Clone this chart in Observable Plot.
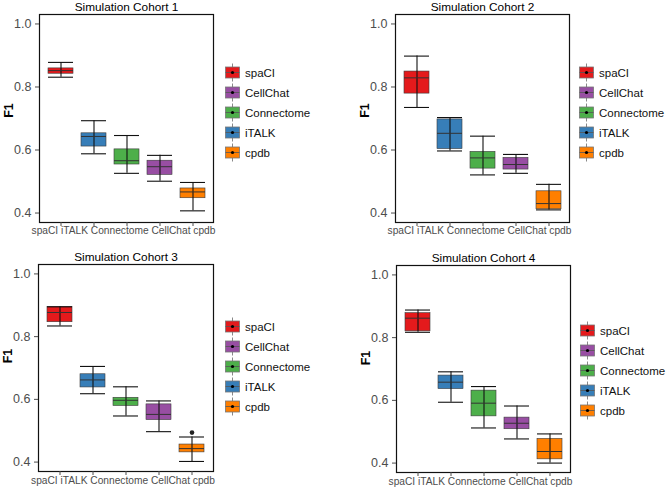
<!DOCTYPE html>
<html>
<head>
<meta charset="utf-8">
<script src="https://cdn.jsdelivr.net/npm/d3@7"></script>
<script src="https://cdn.jsdelivr.net/npm/@observablehq/plot@0.6"></script>
<style>
  html, body { margin: 0; padding: 0; background: #fff; }
  #root { position: relative; width: 666px; height: 489px; overflow: hidden; font-family: "Liberation Sans", Arial, Helvetica, sans-serif; }
  .panel { position: absolute; }
  .legend { position: absolute; }
  .legend text { font-family: "Liberation Sans", Arial, Helvetica, sans-serif; }
</style>
</head>
<body>
<div id="root"></div>
<script>
// ---------- data ----------
const methods = ["spaCI", "iTALK", "Connectome", "CellChat", "cpdb"];
const legendOrder = ["spaCI", "CellChat", "Connectome", "iTALK", "cpdb"];
const methodColors = ["#E41A1C", "#377EB8", "#4DAF4A", "#984EA3", "#FF7F00"]; // in `methods` order
const cohortTitles = ["Simulation Cohort 1", "Simulation Cohort 2", "Simulation Cohort 3", "Simulation Cohort 4"];
const yTicks = [0.4, 0.6, 0.8, 1.0];

// per cohort (rows) x per method (columns, `methods` order)
const whiskerLow = [
  [0.831, 0.588, 0.526, 0.501, 0.407],
  [0.735, 0.597, 0.521, 0.526, 0.410],
  [0.834, 0.618, 0.547, 0.497, 0.402],
  [0.817, 0.594, 0.512, 0.477, 0.400]
];
const q1 = [
  [0.842, 0.611, 0.554, 0.521, 0.447],
  [0.779, 0.603, 0.541, 0.538, 0.412],
  [0.846, 0.638, 0.579, 0.534, 0.431],
  [0.820, 0.636, 0.549, 0.508, 0.412]
];
const median = [
  [0.852, 0.643, 0.566, 0.547, 0.467],
  [0.829, 0.653, 0.575, 0.554, 0.430],
  [0.877, 0.662, 0.597, 0.552, 0.443],
  [0.862, 0.658, 0.591, 0.527, 0.437]
];
const q3 = [
  [0.859, 0.653, 0.602, 0.566, 0.478],
  [0.849, 0.697, 0.594, 0.575, 0.469],
  [0.895, 0.680, 0.605, 0.584, 0.456],
  [0.878, 0.679, 0.631, 0.545, 0.477]
];
const whiskerHigh = [
  [0.878, 0.693, 0.646, 0.583, 0.497],
  [0.898, 0.703, 0.644, 0.586, 0.491],
  [0.895, 0.705, 0.640, 0.595, 0.480],
  [0.888, 0.691, 0.644, 0.582, 0.493]
];
const outlierCohort = [2];
const outlierMethod = ["cpdb"];
const outlierValue = [0.494];

// ---------- layout (not data) ----------
const layout = [
  {left: 0,   top: 0,   width: 222, height: 245, mL: 39, mR: 9, mT: 14, mB: 23, legLeft: 225, legTop: 62, fDy: -8, xDy: 4.5},
  {left: 333, top: 0,   width: 245, height: 245, mL: 62, mR: 9, mT: 14, mB: 23, legLeft: 579, legTop: 62, fDy: -8, xDy: 4.5},
  {left: 0,   top: 245, width: 222, height: 244, mL: 38, mR: 9, mT: 19, mB: 18, legLeft: 225, legTop: 316, fDy: -12, xDy: 5.5},
  {left: 333, top: 245, width: 246, height: 244, mL: 63, mR: 9, mT: 20, mB: 17, legLeft: 580, legTop: 320, fDy: -11, xDy: 5}
];

const root = document.getElementById("root");
const colorScale = {domain: methods, range: methodColors};
const font = "Liberation Sans, Arial, Helvetica, sans-serif";

cohortTitles.forEach((title, c) => {
  const L = layout[c];
  const rows = methods.map((m, i) => ({
    method: m, lo: whiskerLow[c][i], q1: q1[c][i], med: median[c][i], q3: q3[c][i], hi: whiskerHigh[c][i]
  }));
  const outs = outlierCohort.map((oc, k) => ({cohort: oc, method: outlierMethod[k], value: outlierValue[k]}))
    .filter(d => d.cohort === c);

  const chart = Plot.plot({
    width: L.width, height: L.height,
    marginLeft: L.mL, marginRight: L.mR, marginTop: L.mT, marginBottom: L.mB,
    style: {fontFamily: font, background: "white", overflow: "visible"},
    x: {type: "band", domain: methods, paddingInner: 0.25, paddingOuter: 0.225, align: 0.5},
    y: {domain: [0.37, 1.03]},
    color: colorScale,
    marks: [
      Plot.barY(rows, {x: "method", y1: "q1", y2: "q3", fill: "method", stroke: "#3a3a3a", strokeWidth: 0.6}),
      Plot.ruleX(rows, {x: "method", y1: "lo", y2: "hi", stroke: "#111", strokeWidth: 1.1}),
      Plot.tickY(rows, {x: "method", y: "lo", stroke: "#111", strokeWidth: 1.1}),
      Plot.tickY(rows, {x: "method", y: "hi", stroke: "#111", strokeWidth: 1.1}),
      Plot.tickY(rows, {x: "method", y: "med", stroke: "#333", strokeWidth: 1}),
      Plot.dot(outs, {x: "method", y: "value", r: 2.3, fill: "#222", stroke: "none"}),
      Plot.frame({stroke: "#111", strokeWidth: 1.2}),
      Plot.axisY({ticks: yTicks, tickFormat: d3.format(".1f"), tickSize: 4, tickPadding: 4,
                  fontSize: 12.5, color: "#4d4d4d", stroke: "#4d4d4d", label: null}),
      Plot.axisX({tickSize: 4, text: null, stroke: "#4d4d4d", label: null}),
      // category labels: in the figure they run together as one centred line under the ticks
      Plot.text([methods.join(" ")], {frameAnchor: "bottom", lineAnchor: "top", textAnchor: "middle",
                  dx: -3, dy: L.xDy, fontSize: 10.2, fill: "#4d4d4d"}),
      Plot.text(["F1"], {frameAnchor: "left", textAnchor: "middle", lineAnchor: "middle",
                  dx: -31, dy: L.fDy, rotate: -90, fontWeight: "bold", fontSize: 12.5, fill: "#000"}),
      Plot.text([title], {frameAnchor: "top", lineAnchor: "middle", textAnchor: "middle",
                  dy: -7, fontSize: 11.8, fill: "#000"})
    ]
  });
  chart.classList.add("panel");
  chart.style.left = L.left + "px";
  chart.style.top = L.top + "px";
  root.appendChild(chart);

  // legend
  const legW = 90, rowH = 20;
  const svg = d3.create("svg").attr("class", "legend")
    .attr("width", legW).attr("height", rowH * legendOrder.length + 2)
    .style("left", L.legLeft + "px").style("top", L.legTop + "px");
  const col = d3.scaleOrdinal(methods, methodColors);
  const g = svg.selectAll("g").data(legendOrder).join("g")
    .attr("transform", (d, i) => `translate(0,${i * rowH + rowH / 2 + 0.5})`);
  g.append("line").attr("x1", 7.5).attr("x2", 7.5).attr("y1", -9).attr("y2", 9).attr("stroke", "#888").attr("stroke-width", 1);
  g.append("rect").attr("x", 0.5).attr("y", -5.5).attr("width", 14).attr("height", 11)
    .attr("fill", d => col(d)).attr("stroke", "#777").attr("stroke-width", 0.8);
  g.append("line").attr("x1", 0.5).attr("x2", 14.5).attr("y1", 0).attr("y2", 0).attr("stroke", "#555").attr("stroke-width", 0.8);
  g.append("circle").attr("cx", 7.5).attr("cy", 0).attr("r", 1.6).attr("fill", "#000");
  g.append("text").attr("x", 20).attr("y", 0).attr("dy", "0.35em").attr("font-size", 11.5).attr("fill", "#111").text(d => d);
  root.appendChild(svg.node());
});
</script>
</body>
</html>
